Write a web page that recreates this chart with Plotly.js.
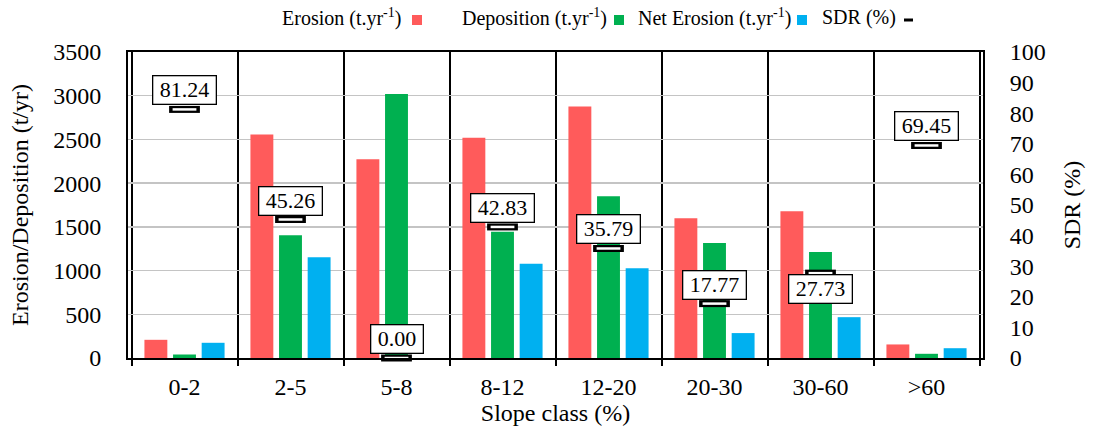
<!DOCTYPE html>
<html>
<head>
<meta charset="utf-8">
<script src="https://cdn.plot.ly/plotly-3.0.1.min.js"></script>
<style>html,body{margin:0;padding:0;background:#fff;}#chart{width:1093px;height:438px;}</style>
</head>
<body>
<div id="chart"></div>
<script>
// Data
const slopeClasses = ["0-2", "2-5", "5-8", "8-12", "12-20", "20-30", "30-60", ">60"];
const erosion    = [208, 2555, 2272, 2518, 2878, 1598, 1678, 155];
const deposition = [40, 1403, 3019, 1445, 1850, 1315, 1212, 48];
const netErosion = [174, 1151, 0, 1079, 1027, 285, 467, 112];
const sdr        = [81.24, 45.26, 0.00, 42.83, 35.79, 17.77, 27.73, 69.45];
const labelBelow = [false, false, false, false, false, false, true, false];
const legendNames = ["Erosion (t.yr<sup>-1</sup>)", "Deposition (t.yr<sup>-1</sup>)", "Net Erosion (t.yr<sup>-1</sup>)", "SDR (%)"];

const FONT = "Liberation Serif, Times New Roman, serif";
const RED = "#FF5B5B", GREEN = "#00B050", BLUE = "#00B0F0";
const colors = [RED, GREEN, BLUE, "#000"];

const traces = [
  {type: "bar", name: "Erosion", x: slopeClasses, y: erosion, marker: {color: RED}, hoverinfo: "skip"},
  {type: "bar", name: "Deposition", x: slopeClasses, y: deposition, marker: {color: GREEN}, hoverinfo: "skip"},
  {type: "bar", name: "Net Erosion", x: slopeClasses, y: netErosion, marker: {color: BLUE}, hoverinfo: "skip"},
  {type: "scatter", mode: "markers", x: slopeClasses, y: sdr, yaxis: "y2", cliponaxis: false,
   marker: {symbol: "line-ew", size: 22, line: {width: 7, color: "#000"}}, hoverinfo: "skip"},
  {type: "scatter", mode: "markers", x: slopeClasses, y: sdr, yaxis: "y2", cliponaxis: false,
   marker: {symbol: "line-ew", size: 17, line: {width: 2.5, color: "#fff"}}, hoverinfo: "skip"}
];

const annotations = sdr.map((v, i) => ({
  xref: "x", yref: "y2", x: slopeClasses[i], y: v,
  text: "&nbsp;" + v.toFixed(2) + "&nbsp;",
  showarrow: false,
  yanchor: labelBelow[i] ? "top" : "bottom",
  yshift: labelBelow[i] ? -1 : 4,
  bgcolor: "#fff", bordercolor: "#000", borderwidth: 1.3, borderpad: 1,
  font: {family: FONT, size: 22, color: "#000"}
}));

// Legend drawn as text followed by a symbol, as in the reference
const PL = 128, PW = 855, PT = 52, PH = 306;
const px = v => (v - PL) / PW;
const py = v => 1 + (PT - v) / PH;
const legendTextX = [280, 460, 636, 820];
const legendSymX  = [412, 614, 797, 904];
const shapes = [];
legendNames.forEach((name, i) => {
  annotations.push({
    xref: "paper", yref: "paper", x: px(legendTextX[i]), y: py(18), xanchor: "left", yanchor: "middle",
    text: name, showarrow: false, font: {family: FONT, size: 20, color: "#000"}
  });
  if (i < 3) {
    shapes.push({type: "rect", xref: "paper", yref: "paper",
      x0: px(legendSymX[i]), x1: px(legendSymX[i] + 10), y0: py(25), y1: py(15),
      fillcolor: colors[i], line: {width: 0}});
  } else {
    shapes.push({type: "line", xref: "paper", yref: "paper",
      x0: px(legendSymX[i]), x1: px(legendSymX[i] + 9), y0: py(20), y1: py(20),
      line: {color: "#000", width: 3}});
  }
});

const layout = {
  width: 1093, height: 438,
  margin: {l: 128, r: 110, t: 52, b: 80},
  paper_bgcolor: "#fff", plot_bgcolor: "#fff",
  font: {family: FONT, size: 24, color: "#000"},
  showlegend: false,
  barmode: "group", bargap: 0.19, bargroupgap: 0.2,
  xaxis: {
    type: "category", tickson: "boundaries",
    showgrid: true, gridcolor: "#000", gridwidth: 2,
    ticks: "outside", ticklen: 6, tickcolor: "#000", tickwidth: 2,
    showline: true, linecolor: "#000", linewidth: 2, mirror: true,
    ticklabelstandoff: 6,
    tickfont: {family: FONT, size: 24},
    title: {text: "Slope class (%)", font: {family: FONT, size: 24}, standoff: 4},
    automargin: false
  },
  yaxis: {
    range: [0, 3500], dtick: 500,
    showgrid: true, gridcolor: "#C4C4C4", gridwidth: 1.3,
    showline: true, linecolor: "#000", linewidth: 2,
    ticks: "", zeroline: false, ticklabelstandoff: 20,
    tickfont: {family: FONT, size: 24},
    title: {text: "Erosion/Deposition (t/yr)", font: {family: FONT, size: 24}, standoff: 18},
    automargin: false
  },
  yaxis2: {
    overlaying: "y", side: "right",
    range: [0, 100], dtick: 10,
    showgrid: false, zeroline: false,
    showline: true, linecolor: "#000", linewidth: 2,
    ticks: "", ticklabelstandoff: 20,
    tickfont: {family: FONT, size: 24},
    title: {text: "SDR (%)", font: {family: FONT, size: 24}, standoff: 18},
    automargin: false
  },
  annotations: annotations,
  shapes: shapes
};

Plotly.newPlot("chart", traces, layout, {staticPlot: true, displayModeBar: false});
</script>
</body>
</html>
